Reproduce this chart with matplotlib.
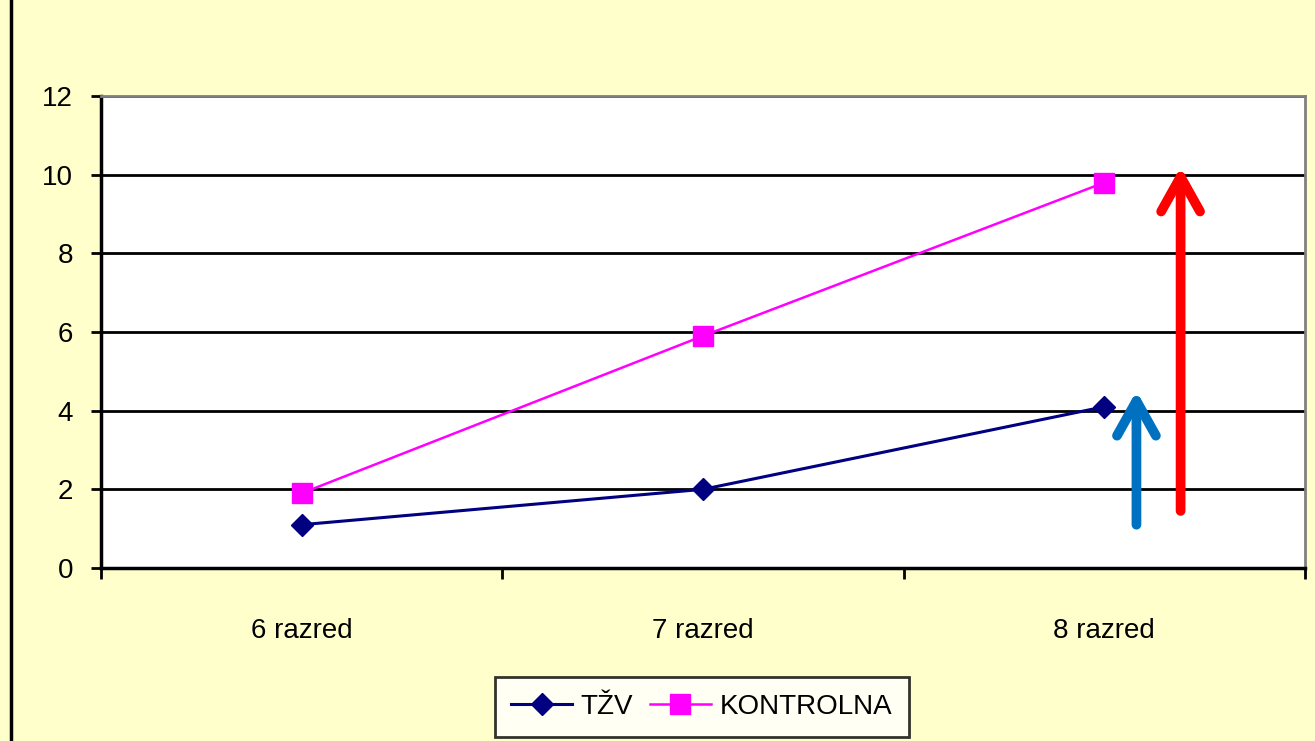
import matplotlib.pyplot as plt
from matplotlib.lines import Line2D

categories = ['6 razred', '7 razred', '8 razred']
tzv = [1.1, 2.0, 4.1]
kontrolna = [1.9, 5.9, 9.8]
yticks = [0, 2, 4, 6, 8, 10, 12]

# arrows drawn beside the last category (x in category units, y in data units)
blue_arrow = (2.08, 1.1, 4.5)
red_arrow = (2.19, 1.45, 10.2)

plt.rcParams['font.family'] = ['Liberation Sans', 'DejaVu Sans']

bg = '#FFFFCC'
fig = plt.figure(figsize=(13.15, 7.41), dpi=100, facecolor=bg)
ax = fig.add_axes([0.0768, 0.2335, 0.9156, 0.6369])
ax.set_facecolor('white')

x = list(range(len(categories)))
ax.plot(x, tzv, color='#000080', lw=2.2, marker='D', ms=11, label='TŽV', zorder=3)
ax.plot(x, kontrolna, color='#FF00FF', lw=1.8, marker='s', ms=14, label='KONTROLNA', zorder=3)

for (ax_x, y0, y1), c in [(blue_arrow, '#0070C0'), (red_arrow, '#FF0000')]:
    ax.annotate('', xy=(ax_x, y1), xytext=(ax_x, y0),
                arrowprops=dict(arrowstyle='->,head_length=2.5,head_width=1.4',
                                color=c, lw=7, shrinkA=0, shrinkB=0,
                                capstyle='round', joinstyle='round'), zorder=4)

ax.set_xlim(-0.5, 2.5)
ax.set_ylim(0, 12)
ax.set_yticks(yticks)
ax.set_yticklabels([str(v) for v in yticks], fontsize=20)
ax.yaxis.grid(True, color='black', lw=2)
ax.set_axisbelow(True)

# category labels in the middle, ticks on the boundaries
ax.set_xticks([-0.5, 0.5, 1.5, 2.5])
ax.set_xticklabels([])
ax.set_xticks(x, minor=True)
ax.set_xticklabels(categories, minor=True, fontsize=20)
ax.tick_params(axis='x', which='minor', length=0, pad=36)
ax.tick_params(axis='x', which='major', length=8, width=2, direction='out')
ax.tick_params(axis='y', length=7, width=2, pad=13)

for s in ['left', 'bottom']:
    ax.spines[s].set_linewidth(2.5)
    ax.spines[s].set_color('black')
for s in ['top', 'right']:
    ax.spines[s].set_linewidth(2)
    ax.spines[s].set_color('#808080')

leg = fig.legend(loc='lower center', bbox_to_anchor=(0.5335, 0.006), ncol=2, fontsize=20,
                 frameon=True, fancybox=False, edgecolor='black', handlelength=2.2,
                 columnspacing=0.6, handletextpad=0.3, borderpad=0.6, borderaxespad=0)
leg.get_frame().set_linewidth(2)
leg.get_frame().set_facecolor('white')

fig.add_artist(Line2D([0.0085, 0.0085], [0, 1], color='black', lw=2.5))

fig.savefig('out.png', dpi=100, facecolor=bg)
